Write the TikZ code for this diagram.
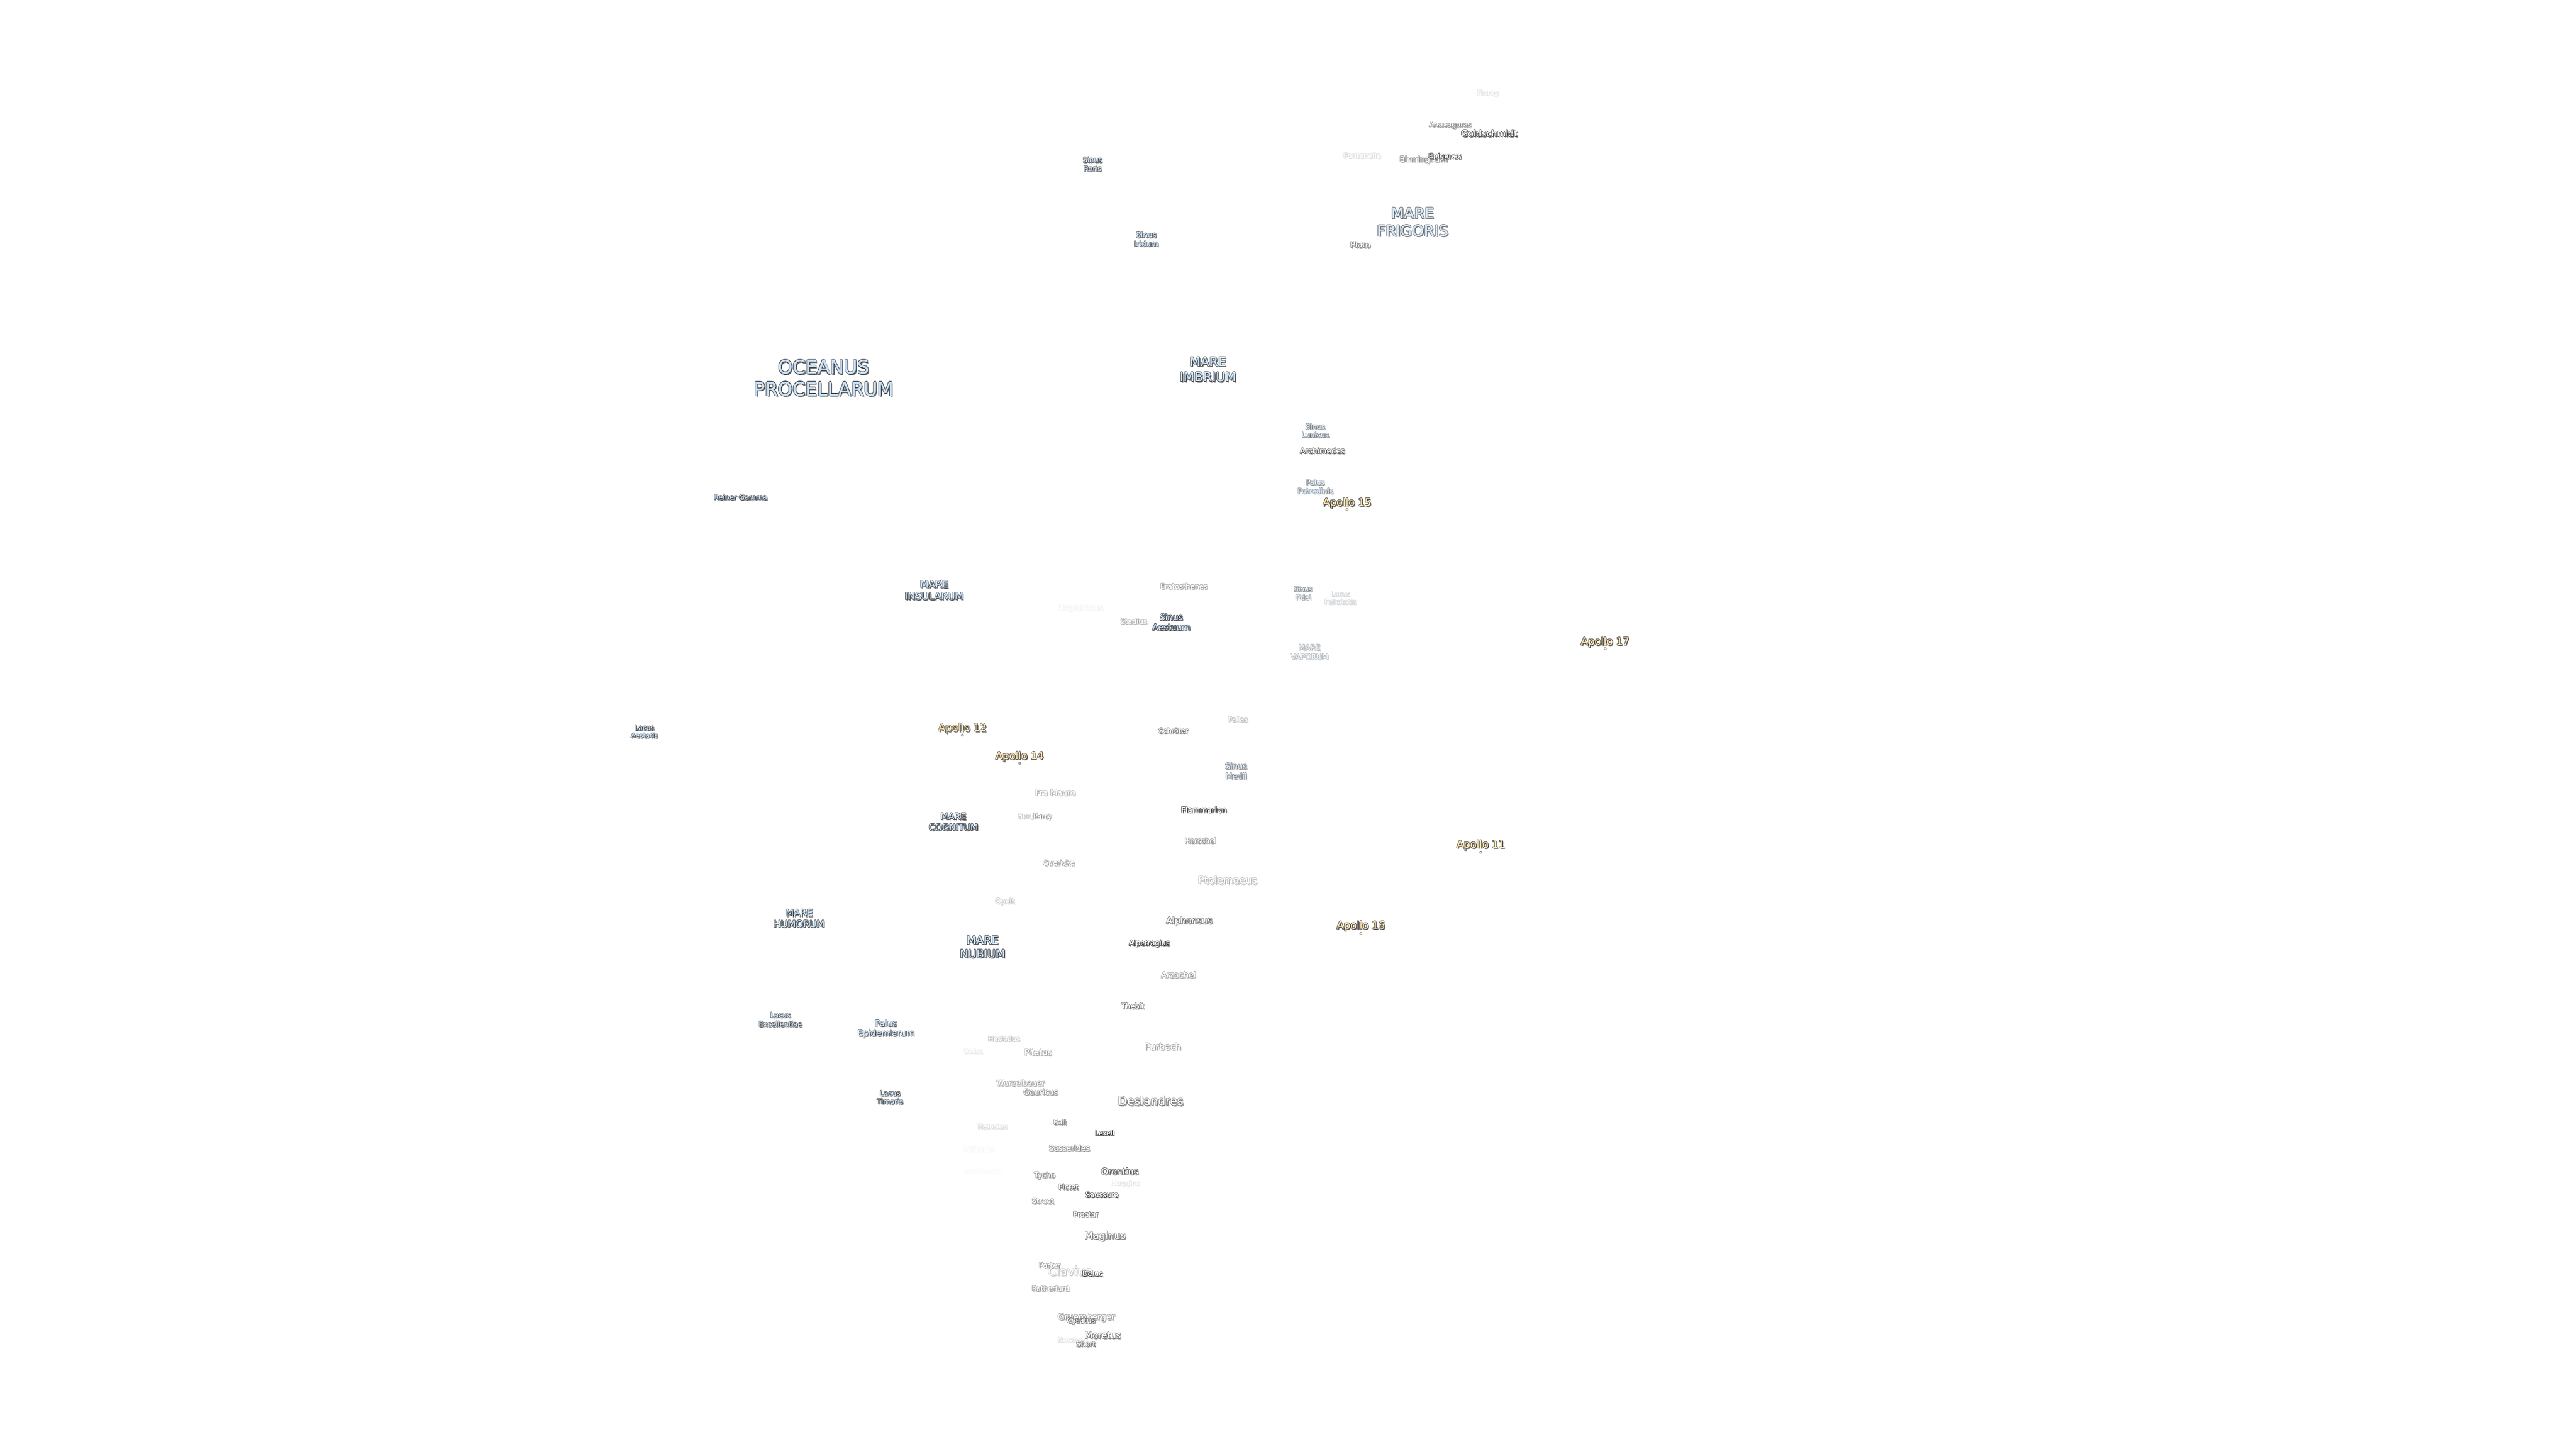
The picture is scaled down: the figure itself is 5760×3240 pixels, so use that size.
\documentclass[tikz,border=0pt]{standalone}
\usepackage{fontspec}
\setmainfont{DejaVu Sans}
\usepackage{tikz}
\usetikzlibrary{positioning}

\definecolor{edgeink}{HTML}{3A3A3A}
\definecolor{shadeink}{HTML}{707070}
\definecolor{marefill}{HTML}{C8DFF6}
\definecolor{sitefill}{HTML}{F8DFAE}

\newlength{\edgew}
\newlength{\fillw}
\newlength{\shadew}
% outlined text with a dropped shadow, one line at a time; widths follow the font size
\newcommand{\halo}[1]{\leavevmode%
  \setlength{\edgew}{\dimexpr .55pt+.012em\relax}%
  \setlength{\fillw}{.009em}%
  \setlength{\shadew}{\dimexpr 2.2pt+.01em\relax}%
  \makebox[0pt][l]{\kern\shadew\raisebox{-\shadew}{\textcolor{shadeink!\inkpct!white}{#1}}}%
  \foreach \hx/\hy in {1.4/0,-1.4/0,0/1.4,0/-1.4,1/1,-1/1,1/-1,-1/-1}{%
    \makebox[0pt][l]{\kern\hx\edgew\raisebox{\hy\edgew}{\textcolor{edgeink!\inkpct!white}{#1}}}%
  }%
  \makebox[0pt][l]{\kern\fillw\textcolor{labelfill}{#1}}%
  \makebox[0pt][l]{\kern-\fillw\textcolor{labelfill}{#1}}%
  \textcolor{labelfill}{#1}}

\tikzset{
  ink/.code 2 args={\def\inkpct{#2}\colorlet{labelfill}{#1!#2!white}},
  crater/.style 2 args={inner sep=0pt, font=\fontsize{#1}{#1}\selectfont, ink={white}{#2}},
  mare/.style n args={3}{inner sep=0pt, align=center, font=\fontsize{#1}{#2}\selectfont, ink={marefill}{#3}},
  site/.style={inner sep=0pt, font=\fontsize{23}{23}\selectfont, ink={sitefill}{100}},
  sitedot/.style={circle, inner sep=0pt, minimum size=5pt, fill=sitefill, draw=edgeink!80!white, line width=1pt},
}

\begin{document}
\begin{tikzpicture}[x=1pt,y=-1pt]
\useasboundingbox (0,0) rectangle (5760,3240);
\begin{scope}[shift={(0,3)}]
%% seas, bays and lakes
  \node (oceanus) at (1842,843) [mare={41.5}{49}{100}] {\halo{OCEANUS}\\\halo{PROCELLARUM}};
  \node (imbrium) at (2701,824) [mare={28.5}{34}{100}] {\halo{MARE}\\\halo{IMBRIUM}};
  \node (frigoris) at (3159,494) [mare={33.5}{39}{80}] {\halo{MARE}\\\halo{FRIGORIS}};
  \node (insularum) at (2089,1318) [mare={22}{27}{100}] {\halo{MARE}\\\halo{INSULARUM}};
  \node (vaporum) at (2928,1456) [mare={17}{21}{40}] {\halo{MARE}\\\halo{VAPORUM}};
  \node (cognitum) at (2132,1836) [mare={20}{24}{100}] {\halo{MARE}\\\halo{COGNITUM}};
  \node (humorum) at (1787,2052) [mare={21}{25}{100}] {\halo{MARE}\\\halo{HUMORUM}};
  \node (nubium) at (2197,2116) [mare={25}{30}{100}] {\halo{MARE}\\\halo{NUBIUM}};
  \node (roris) at (2443,365) [mare={16}{19}{90}] {\halo{Sinus}\\\halo{Roris}};
  \node (iridum) at (2563,533) [mare={17}{20}{90}] {\halo{Sinus}\\\halo{Iridum}};
  \node (lunicus) at (2941,961) [mare={16}{19}{70}] {\halo{Sinus}\\\halo{Lunicus}};
  \node (putredinis) at (2941,1086) [mare={16}{19}{60}] {\halo{Palus}\\\halo{Putredinis}};
  \node (aestuum) at (2619,1389) [mare={19}{22}{100}] {\halo{Sinus}\\\halo{Aestuum}};
  \node (fidei) at (2914,1324) [mare={15}{18}{60}] {\halo{Sinus}\\\halo{Fidei}};
  \node (felicitatis) at (2997,1335) [mare={15}{18}{22}] {\halo{Lacus}\\\halo{Felicitatis}};
  \node (aestatis) at (1441,1634) [mare={15}{18}{100}] {\halo{Lacus}\\\halo{Aestatis}};
  \node (medii) at (2764,1722) [mare={18}{22}{65}] {\halo{Sinus}\\\halo{Medii}};
  \node (excellentiae) at (1745,2278) [mare={16}{20}{90}] {\halo{Lacus}\\\halo{Excellentiae}};
  \node (epidemiarum) at (1981,2299) [mare={19}{22}{90}] {\halo{Palus}\\\halo{Epidemiarum}};
  \node (timoris) at (1990,2452) [mare={16}{19}{90}] {\halo{Lacus}\\\halo{Timoris}};
  \node (reiner) at (1656,1110) [mare={16}{19}{100}] {\halo{Reiner Gamma}};
%% craters
  \node (florey) at (3327,207) [crater={16}{15}] {\halo{Florey}};
  \node (anaxagoras) at (3243,278) [crater={16}{65}] {\halo{Anaxagoras}};
  \node (goldschmidt) at (3330,296) [crater={20}{100}] {\halo{Goldschmidt}};
  \node (fontenelle) at (3046,346) [crater={16}{18}] {\halo{Fontenelle}};
  \node (birmingham) at (3183,355) [crater={17.5}{60}] {\halo{Birmingham}};
  \node (epigenes) at (3231,348) [crater={16}{100}] {\halo{Epigenes}};
  \node (plato) at (3042,545) [crater={18}{70}] {\halo{Plato}};
  \node (archimedes) at (2957,1006) [crater={17}{90}] {\halo{Archimedes}};
  \node (copernicus) at (2416,1358) [crater={18}{8}] {\halo{Copernicus}};
  \node (eratosthenes) at (2647,1309) [crater={16}{50}] {\halo{Eratosthenes}};
  \node (stadius) at (2535,1387) [crater={16}{45}] {\halo{Stadius}};
  \node (pallas) at (2768,1606) [crater={15.5}{38}] {\halo{Pallas}};
  \node (schroter) at (2624,1632) [crater={15.5}{70}] {\halo{Schröter}};
  \node (framauro) at (2360,1770) [crater={18}{45}] {\halo{Fra Mauro}};
  \node (flammarion) at (2692,1808) [crater={17}{100}] {\halo{Flammarion}};
  \node (bonpland) at (2312,1824) [crater={15}{32}] {\halo{Bonpland}};
  \node (parry) at (2331,1824) [crater={16}{55}] {\halo{Parry}};
  \node (herschel) at (2684,1878) [crater={16}{55}] {\halo{Herschel}};
  \node (guericke) at (2367,1927) [crater={16}{55}] {\halo{Guericke}};
  \node (ptolemaeus) at (2745,1966) [crater={22.5}{40}] {\halo{Ptolemaeus}};
  \node (opelt) at (2247,2014) [crater={16}{32}] {\halo{Opelt}};
  \node (alphonsus) at (2659,2058) [crater={20}{75}] {\halo{Alphonsus}};
  \node (alpetragius) at (2570,2108) [crater={16}{100}] {\halo{Alpetragius}};
  \node (arzachel) at (2635,2178) [crater={18}{50}] {\halo{Arzachel}};
  \node (thebit) at (2533,2248) [crater={16}{85}] {\halo{Thebit}};
  \node (hesiodus) at (2245,2321) [crater={15.5}{32}] {\halo{Hesiodus}};
  \node (weiss) at (2176,2349) [crater={15}{12}] {\halo{Weiss}};
  \node (pitatus) at (2321,2351) [crater={18}{50}] {\halo{Pitatus}};
  \node (purbach) at (2600,2338) [crater={20}{50}] {\halo{Purbach}};
  \node (wurzelbauer) at (2282,2420) [crater={17}{45}] {\halo{Wurzelbauer}};
  \node (gauricus) at (2327,2440) [crater={17.5}{55}] {\halo{Gauricus}};
  \node (deslandres) at (2573,2460) [crater={26}{75}] {\halo{Deslandres}};
  \node (ball) at (2370,2508) [crater={15}{70}] {\halo{Ball}};
  \node (heinsius) at (2219,2517) [crater={15.5}{20}] {\halo{Heinsius}};
  \node (lexell) at (2470,2532) [crater={15}{100}] {\halo{Lexell}};
  \node (sasserides) at (2391,2565) [crater={17}{60}] {\halo{Sasserides}};
  \node (wilhelm) at (2189,2568) [crater={17.5}{4}] {\halo{Wilhelm}};
  \node (montanari) at (2196,2616) [crater={17}{3}] {\halo{Montanari}};
  \node (tycho) at (2336,2627) [crater={16.5}{60}] {\halo{Tycho}};
  \node (orontius) at (2504,2617) [crater={19.5}{90}] {\halo{Orontius}};
  \node (huggins) at (2516,2645) [crater={16}{15}] {\halo{Huggins}};
  \node (pictet) at (2389,2652) [crater={16}{75}] {\halo{Pictet}};
  \node (saussure) at (2464,2670) [crater={16}{100}] {\halo{Saussure}};
  \node (street) at (2332,2684) [crater={16}{60}] {\halo{Street}};
  \node (proctor) at (2428,2713) [crater={16}{85}] {\halo{Proctor}};
  \node (maginus) at (2471,2763) [crater={22}{75}] {\halo{Maginus}};
  \node (clavius) at (2392,2840) [crater={27}{32}] {\halo{Clavius}};
  \node (porter) at (2347,2827) [crater={16}{60}] {\halo{Porter}};
  \node (deluc) at (2443,2846) [crater={16}{100}] {\halo{Deluc}};
  \node (rutherfurd) at (2349,2879) [crater={15.5}{55}] {\halo{Rutherfurd}};
  \node (gruemberger) at (2429,2944) [crater={19}{55}] {\halo{Gruemberger}};
  \node (cysatus) at (2417,2952) [crater={16}{80}] {\halo{Cysatus}};
  \node (newton) at (2395,2995) [crater={16}{18}] {\halo{Newton}};
  \node (moretus) at (2466,2984) [crater={20}{75}] {\halo{Moretus}};
  \node (short) at (2428,3004) [crater={16}{70}] {\halo{Short}};
%% landing sites
  \node (apollo_11) at (3311,1888) [site] {\halo{Apollo 11}};
  \node (dot_11) at (3311,1903) [sitedot] {};
  \node (apollo_12) at (2152,1627) [site] {\halo{Apollo 12}};
  \node (dot_12) at (2152,1641) [sitedot] {};
  \node (apollo_14) at (2280,1690) [site] {\halo{Apollo 14}};
  \node (dot_14) at (2280,1704) [sitedot] {};
  \node (apollo_15) at (3012,1123) [site] {\halo{Apollo 15}};
  \node (dot_15) at (3012,1137) [sitedot] {};
  \node (apollo_16) at (3043,2069) [site] {\halo{Apollo 16}};
  \node (dot_16) at (3043,2085) [sitedot] {};
  \node (apollo_17) at (3589,1434) [site] {\halo{Apollo 17}};
  \node (dot_17) at (3589,1448) [sitedot] {};
\end{scope}
%
\end{tikzpicture}
\end{document}
